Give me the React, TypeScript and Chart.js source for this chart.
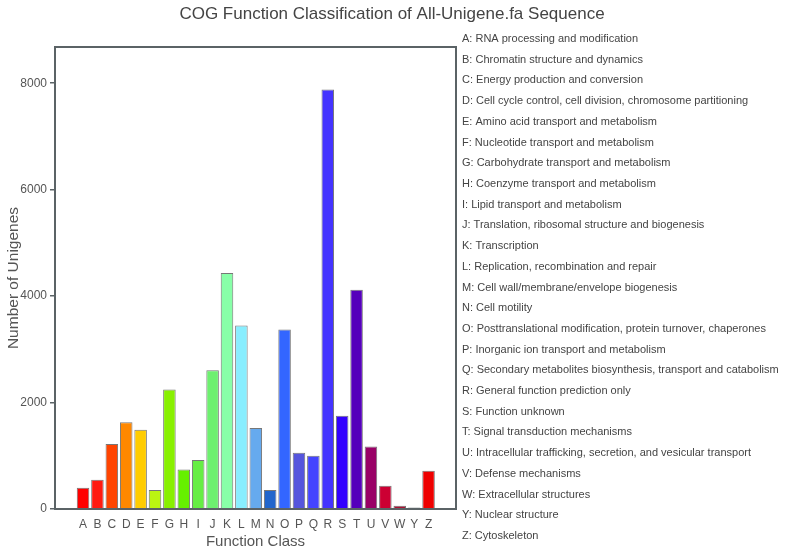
import React, { useEffect, useRef } from "react";
import { Chart, registerables } from "chart.js";

Chart.register(...registerables);

const TITLE = "COG Function Classification of All-Unigene.fa Sequence";
const CLASSES = ["A","B","C","D","E","F","G","H","I","J","K","L","M","N","O","P","Q","R","S","T","U","V","W","Y","Z"];
const COUNTS = [400, 550, 1220, 1630, 1490, 357, 2243, 740, 920, 2606, 4436, 3446, 1520, 357, 3371, 1059, 1002, 7880, 1754, 4117, 1172, 439, 63, 30, 720];
const COLORS = ["#ff0000","#ff1a10","#ff4400","#ff8800","#ffcc00","#bbf511","#88f000","#66f000","#66ee44","#6ef070","#88ffa8","#88eeff","#66aaee","#2266cc","#3366ff","#5555dd","#4444ff","#4433ff","#3300ff","#5500bb","#990066","#cc0033","#aa1133","#556666","#ee0000"];
const DESCRIPTIONS = [
  "A: RNA processing and modification",
  "B: Chromatin structure and dynamics",
  "C: Energy production and conversion",
  "D: Cell cycle control, cell division, chromosome partitioning",
  "E: Amino acid transport and metabolism",
  "F: Nucleotide transport and metabolism",
  "G: Carbohydrate transport and metabolism",
  "H: Coenzyme transport and metabolism",
  "I: Lipid transport and metabolism",
  "J: Translation, ribosomal structure and biogenesis",
  "K: Transcription",
  "L: Replication, recombination and repair",
  "M: Cell wall/membrane/envelope biogenesis",
  "N: Cell motility",
  "O: Posttranslational modification, protein turnover, chaperones",
  "P: Inorganic ion transport and metabolism",
  "Q: Secondary metabolites biosynthesis, transport and catabolism",
  "R: General function prediction only",
  "S: Function unknown",
  "T: Signal transduction mechanisms",
  "U: Intracellular trafficking, secretion, and vesicular transport",
  "V: Defense mechanisms",
  "W: Extracellular structures",
  "Y: Nuclear structure",
  "Z: Cytoskeleton",
];
const Y_TICKS = [0, 2000, 4000, 6000, 8000];

const FONT = "'Liberation Sans', Arial, sans-serif";
const FRAME = "#5b6366";

const decorPlugin = {
  id: "decor",
  afterDraw(chart: any) {
    const { ctx, chartArea } = chart;
    ctx.save();
    // frame
    ctx.strokeStyle = FRAME;
    ctx.lineWidth = 2;
    ctx.strokeRect(chartArea.left, chartArea.top, chartArea.right - chartArea.left, chartArea.bottom - chartArea.top);
    // title
    ctx.fillStyle = "#444";
    ctx.font = `17px ${FONT}`;
    ctx.textAlign = "center";
    ctx.textBaseline = "middle";
    ctx.fillText(TITLE, 392, 14);
    // legend descriptions
    ctx.font = `11px ${FONT}`;
    ctx.textAlign = "left";
    ctx.fillStyle = "#444";
    const step = (536 - 39) / (DESCRIPTIONS.length - 1);
    DESCRIPTIONS.forEach((t, i) => {
      ctx.fillText(t, 462, 39 + i * step);
    });
    ctx.restore();
  },
};

export default function App() {
  const ref = useRef<HTMLCanvasElement | null>(null);
  useEffect(() => {
    if (!ref.current) return;
    const chart = new Chart(ref.current, {
      type: "bar",
      data: {
        datasets: [
          {
            data: COUNTS.map((v, i) => ({ x: i, y: v })),
            backgroundColor: COLORS,
            borderColor: "#777777",
            borderWidth: 1,
            barPercentage: 0.87,
            categoryPercentage: 1,
          },
        ],
      },
      options: {
        responsive: false,
        animation: false,
        layout: { padding: { top: 47, right: 329, left: 0, bottom: 0 } },
        plugins: { legend: { display: false }, tooltip: { enabled: false }, title: { display: false } },
        scales: {
          x: {
            type: "linear",
            min: -1.39,
            max: 25.35,
            afterBuildTicks: (scale: any) => {
              scale.ticks = CLASSES.map((_, i) => ({ value: i }));
            },
            afterFit: (scale: any) => {
              scale.height = 46;
            },
            grid: { display: false, drawTicks: false },
            border: { display: false },
            ticks: {
              autoSkip: false,
              maxRotation: 0,
              padding: 8,
              color: "#555",
              font: { family: FONT, size: 12 },
              callback: (v: any) => CLASSES[Number(v)] ?? "",
            },
            title: {
              display: true,
              text: "Function Class",
              color: "#555",
              font: { family: FONT, size: 15 },
              padding: { top: 0, bottom: 4 },
            },
          },
          y: {
            min: 0,
            max: 8680,
            afterBuildTicks: (scale: any) => {
              scale.ticks = Y_TICKS.map((v) => ({ value: v }));
            },
            afterFit: (scale: any) => {
              scale.width = 55;
            },
            grid: { drawOnChartArea: false, drawTicks: true, tickLength: 5, color: FRAME, lineWidth: 1.5 },
            border: { display: false },
            ticks: {
              padding: 3,
              color: "#555",
              font: { family: FONT, size: 12 },
              callback: (v: any) => String(v),
            },
            title: {
              display: true,
              text: "Number of Unigenes",
              color: "#555",
              font: { family: FONT, size: 15.5 },
              padding: { top: 4, bottom: 0 },
            },
          },
        },
      },
      plugins: [decorPlugin],
    } as any);
    return () => chart.destroy();
  }, []);
  return (
    <div style={{ position: "fixed", left: 0, top: 0, width: 785, height: 555, background: "#fff" }}>
      <canvas ref={ref} width={785} height={555} style={{ display: "block" }} />
    </div>
  );
}
